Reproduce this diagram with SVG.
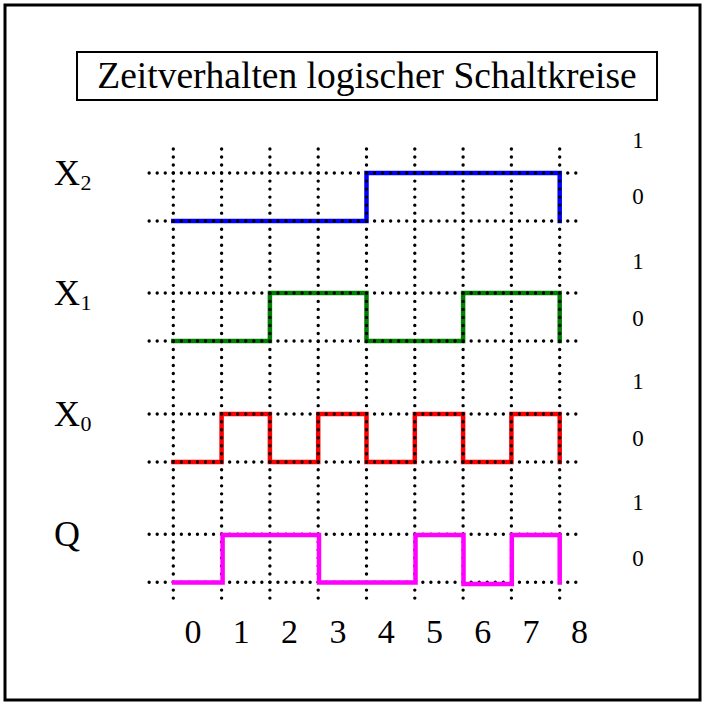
<svg xmlns="http://www.w3.org/2000/svg" width="704" height="704" viewBox="0 0 704 704">
<style>
.t{font-family:"Liberation Serif","Times New Roman",serif;fill:#000}
.grid{stroke:#000;stroke-width:3.4;stroke-linecap:round;stroke-dasharray:0 8.05;fill:none}
.gridv{stroke:#000;stroke-width:3.4;stroke-linecap:round;stroke-dasharray:0 8.02;fill:none}
.wave{fill:none;stroke-width:4.5;stroke-linejoin:miter;stroke-linecap:square}
.lvl{font-size:23px;text-anchor:middle}
.tick{font-size:34px;text-anchor:middle}
</style>
<rect x="0" y="0" width="704" height="704" fill="#fff"/>
<rect id="frame" x="5" y="5" width="695" height="695" fill="none" stroke="#000" stroke-width="3"/>
<g id="title">
<rect x="77" y="52" width="580" height="48" fill="#fff" stroke="#000" stroke-width="2"/>
<text class="t" x="367" y="88" font-size="37.5" text-anchor="middle">Zeitverhalten logischer Schaltkreise</text>
</g>
<g id="waves-under">
<path id="x2-wave" class="wave" stroke="#0000ff" d="M173.3,221 H366.5 V173 H559.7 V221"/>
<path id="x1-wave" class="wave" stroke="#008000" d="M173.3,341 H269.9 V293 H366.5 V341 H463.1 V293 H559.7 V341"/>
<path id="x0-wave" class="wave" stroke="#ff0000" d="M173.3,462 H221.6 V414 H269.9 V462 H318.2 V414 H366.5 V462 H414.8 V414 H463.1 V462 H511.4 V414 H559.7 V462"/>
</g>
<g id="grid">
<path class="grid" d="M149.15,173 H580 M149.15,221 H580 M149.15,293 H580 M149.15,341 H580 M149.15,414 H580 M149.15,462 H580 M149.15,534.3 H580 M149.15,582.3 H580"/>
<path class="gridv" d="M173.3,149 V603 M221.6,149 V603 M269.9,149 V603 M318.2,149 V603 M366.5,149 V603 M414.8,149 V603 M463.1,149 V603 M511.4,149 V603 M559.7,149 V603"/>
</g>
<g id="waves-over">
<path id="q-wave" class="wave" stroke="#ff00ff" d="M174,582.5 H222.6 V535 H319 V582.5 H415.5 V535 H463.5 V584 H511.8 V535 H559.7 V582.5"/>
</g>
<g id="signal-x2">
<text class="t" x="54" y="185" font-size="36">X</text>
<text class="t" x="80.5" y="190" font-size="22">2</text>
</g>
<g id="signal-x1">
<text class="t" x="54" y="305" font-size="36">X</text>
<text class="t" x="80.5" y="310" font-size="22">1</text>
</g>
<g id="signal-x0">
<text class="t" x="54" y="426" font-size="36">X</text>
<text class="t" x="80.5" y="431" font-size="22">0</text>
</g>
<g id="signal-q">
<text class="t" x="54" y="546" font-size="36">Q</text>
</g>
<g id="levels">
<text class="t lvl" x="638" y="148">1</text>
<text class="t lvl" x="638" y="204">0</text>
<text class="t lvl" x="638" y="269">1</text>
<text class="t lvl" x="638" y="326">0</text>
<text class="t lvl" x="638" y="389">1</text>
<text class="t lvl" x="638" y="446">0</text>
<text class="t lvl" x="638" y="510">1</text>
<text class="t lvl" x="638" y="566">0</text>
</g>
<g id="time-axis">
<text class="t tick" x="193" y="643">0</text>
<text class="t tick" x="241.3" y="643">1</text>
<text class="t tick" x="289.6" y="643">2</text>
<text class="t tick" x="337.9" y="643">3</text>
<text class="t tick" x="386.2" y="643">4</text>
<text class="t tick" x="434.5" y="643">5</text>
<text class="t tick" x="482.8" y="643">6</text>
<text class="t tick" x="531.1" y="643">7</text>
<text class="t tick" x="579.4" y="643">8</text>
</g>
</svg>
